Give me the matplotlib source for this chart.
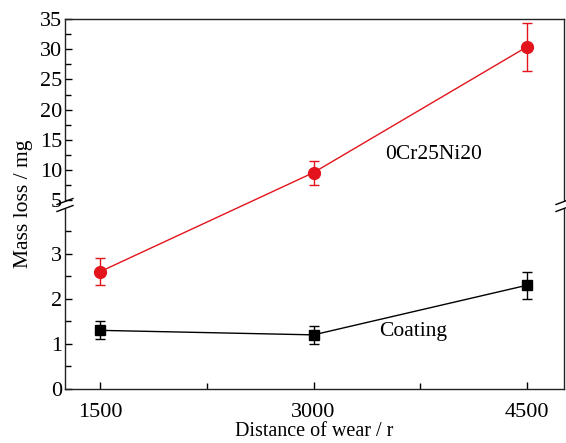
import numpy as np
import matplotlib
matplotlib.use("Agg")
import matplotlib.pyplot as plt
from matplotlib.ticker import FixedLocator, FixedFormatter

plt.rcParams['font.family'] = ['Liberation Serif', 'DejaVu Serif']
plt.rcParams['mathtext.fontset'] = 'stix'

distance = [1500, 3000, 4500]
steel_loss = [2.6, 9.6, 30.4]
steel_err = [0.3, 2.0, 4.0]
coating_loss = [1.3, 1.2, 2.3]
coating_err = [0.2, 0.2, 0.3]

major_y = [0, 1, 2, 3, 5, 10, 15, 20, 25, 30, 35]
major_y_labels = ['0', '1', '2', '3', '5', '10', '15', '20', '25', '30', '35']
minor_y = [0.5, 1.5, 2.5, 3.5, 7.5, 12.5, 17.5, 22.5, 27.5, 32.5]
x_ticks = [1500, 3000, 4500]
x_minor = [2250, 3750]

# broken-axis scale
B = 4.18          # top of lower segment
K = 7.46          # lower segment stretch relative to upper
EPS = 1e-3

def fwd(y):
    y = np.asarray(y, dtype=float)
    low = y * K
    mid = B * K + (y - B) * EPS
    up = B * K + (5 - B) * EPS + (y - 5)
    return np.where(y <= B, low, np.where(y < 5, mid, up))

def inv(f):
    f = np.asarray(f, dtype=float)
    f1 = B * K
    f2 = B * K + (5 - B) * EPS
    low = f / K
    mid = B + (f - f1) / EPS
    up = 5 + (f - f2)
    return np.where(f <= f1, low, np.where(f < f2, mid, up))

fig = plt.figure(figsize=(5.66, 4.43), dpi=100)
ax = fig.add_axes([0.1148, 0.1219, 0.8817, 0.8352])
ax.set_yscale('function', functions=(fwd, inv))
ax.set_ylim(0, 35)
ax.set_xlim(1254, 4760)

red = '#e3141c'
ax.errorbar(distance, steel_loss, yerr=steel_err, color=red, marker='o', ms=8.5,
            lw=1.0, capsize=3.5, elinewidth=1.0, capthick=1.0, zorder=3)
ax.errorbar(distance, coating_loss, yerr=coating_err, color='black', marker='s', ms=7,
            lw=1.0, capsize=3.5, elinewidth=1.0, capthick=1.0, zorder=3)

ax.yaxis.set_major_locator(FixedLocator(major_y))
ax.yaxis.set_major_formatter(FixedFormatter(major_y_labels))
ax.yaxis.set_minor_locator(FixedLocator(minor_y))
ax.xaxis.set_major_locator(FixedLocator(x_ticks))
ax.xaxis.set_minor_locator(FixedLocator(x_minor))
ax.tick_params(which='both', direction='in', top=False, right=False, labelsize=16)
ax.tick_params(which='major', length=5, width=1)
ax.tick_params(which='minor', length=4, width=1)
ax.tick_params(axis='y', pad=2)
ax.tick_params(axis='x', pad=10)

for s in ax.spines.values():
    s.set_linewidth(1.0)
    s.set_color('#222222')

ax.set_xlabel('Distance of wear / r', fontsize=14.5, labelpad=0)
ax.set_ylabel('Mass loss / mg', fontsize=15.5, labelpad=5)

ax.text(3840, 12.6, '0Cr25Ni20', fontsize=15.5, ha='center', va='center')
ax.text(3700, 1.27, 'Coating', fontsize=15.5, ha='center', va='center')

# break marks on both spines
yb = (389 - 205) / 370.0
dxw = 8 / 499.0
dyh = 3 / 370.0
sep = 3.5 / 370.0
for xb in (0.0, 1.0):
    ax.add_patch(plt.Rectangle((xb - 0.006, yb - sep), 0.012, 2 * sep, transform=ax.transAxes,
                               color='white', zorder=5, clip_on=False, lw=0))
    for dy in (-sep, sep):
        ax.plot([xb - dxw, xb + dxw], [yb + dy - dyh, yb + dy + dyh],
                transform=ax.transAxes, color='black', lw=1.0, clip_on=False, zorder=6)

fig.savefig('out.png', dpi=100)
